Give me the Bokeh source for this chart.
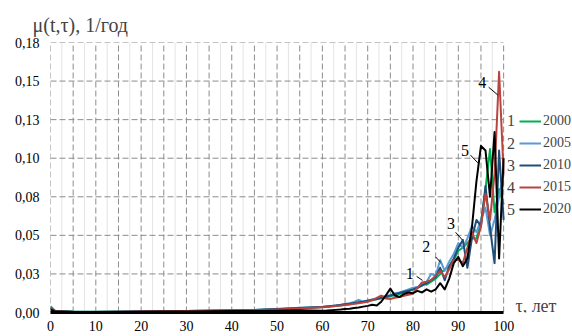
from bokeh.plotting import figure
from bokeh.models import (Legend, LegendItem, Label, FixedTicker, Range1d, ColumnDataSource)
from bokeh.embed import file_html
from bokeh.resources import INLINE

# ---------------- data ----------------
ages = [0, 1, 5, 10, 15, 20, 25, 30, 35, 40, 45, 50, 55] + list(range(60, 101))

mu_2000 = [0.0040, 0.0012, 0.0006, 0.0005, 0.0006, 0.0008, 0.0009, 0.0010, 0.0011, 0.0013, 0.0016, 0.0021, 0.0028,
           0.0035, 0.0037, 0.0040, 0.0043, 0.0046, 0.0050, 0.0054, 0.0058, 0.0063, 0.0068,
           0.0073, 0.0079, 0.0086, 0.0092, 0.0098, 0.0105, 0.0112, 0.0120, 0.0128, 0.0137,
           0.0148, 0.0160, 0.0190, 0.0180, 0.0200, 0.0220, 0.0250, 0.0280, 0.0300, 0.0340,
           0.0400, 0.0420, 0.0450, 0.0480, 0.0480, 0.0580, 0.0800, 0.1060, 0.0650, 0.0800,
           0.0700]
mu_2005 = [0.0035, 0.0010, 0.0005, 0.0005, 0.0006, 0.0008, 0.0009, 0.0010, 0.0012, 0.0014, 0.0017, 0.0023, 0.0030,
           0.0037, 0.0040, 0.0042, 0.0046, 0.0050, 0.0055, 0.0060, 0.0068, 0.0082, 0.0072,
           0.0078, 0.0085, 0.0090, 0.0100, 0.0108, 0.0112, 0.0125, 0.0130, 0.0140, 0.0150,
           0.0160, 0.0165, 0.0180, 0.0200, 0.0250, 0.0240, 0.0340, 0.0270, 0.0330, 0.0380,
           0.0450, 0.0420, 0.0480, 0.0560, 0.0520, 0.0600, 0.0680, 0.0500, 0.0600, 0.0750,
           0.0900]
mu_2010 = [0.0030, 0.0009, 0.0005, 0.0004, 0.0005, 0.0007, 0.0008, 0.0010, 0.0011, 0.0013, 0.0016, 0.0022, 0.0029,
           0.0036, 0.0039, 0.0042, 0.0045, 0.0049, 0.0053, 0.0057, 0.0062, 0.0066, 0.0070,
           0.0076, 0.0082, 0.0088, 0.0095, 0.0102, 0.0110, 0.0118, 0.0126, 0.0134, 0.0142,
           0.0150, 0.0160, 0.0175, 0.0190, 0.0210, 0.0230, 0.0290, 0.0210, 0.0300, 0.0350,
           0.0420, 0.0470, 0.0290, 0.0480, 0.0600, 0.0560, 0.0820, 0.0550, 0.0320, 0.1050,
           0.0600]
mu_2015 = [0.0025, 0.0008, 0.0004, 0.0004, 0.0005, 0.0006, 0.0008, 0.0009, 0.0011, 0.0013, 0.0015, 0.0020, 0.0026,
           0.0034, 0.0036, 0.0039, 0.0042, 0.0045, 0.0048, 0.0052, 0.0056, 0.0060, 0.0064,
           0.0070, 0.0080, 0.0095, 0.0110, 0.0090, 0.0088, 0.0095, 0.0100, 0.0108, 0.0115,
           0.0122, 0.0160, 0.0195, 0.0200, 0.0210, 0.0240, 0.0270, 0.0230, 0.0280, 0.0340,
           0.0340, 0.0320, 0.0420, 0.0520, 0.0450, 0.0560, 0.0770, 0.0600, 0.0900, 0.1560,
           0.0900]
mu_2020 = [0.0020, 0.0006, 0.0003, 0.0003, 0.0004, 0.0005, 0.0006, 0.0007, 0.0008, 0.0009, 0.0010, 0.0012, 0.0015,
           0.0012, 0.0013, 0.0015, 0.0017, 0.0019, 0.0022, 0.0025, 0.0029, 0.0033, 0.0038,
           0.0043, 0.0050, 0.0045, 0.0070, 0.0110, 0.0155, 0.0110, 0.0100, 0.0120, 0.0130,
           0.0125, 0.0140, 0.0130, 0.0150, 0.0135, 0.0150, 0.0190, 0.0150, 0.0220, 0.0320,
           0.0360, 0.0300, 0.0350, 0.0550, 0.0850, 0.1080, 0.1050, 0.0750, 0.1170, 0.0350,
           0.1000]

years = ["2000", "2005", "2010", "2015", "2020"]
numbers = ["1", "2", "3", "4", "5"]
series = [mu_2000, mu_2005, mu_2010, mu_2015, mu_2020]
colors = ["#00B050", "#5B9BD5", "#1F4E79", "#B8443F", "#000000"]

y_ticks = [0.0, 0.025, 0.05, 0.075, 0.1, 0.125, 0.15, 0.175]
y_tick_labels = ["0,00", "0,03", "0,05", "0,08", "0,10", "0,13", "0,15", "0,18"]
x_ticks = [0, 10, 20, 30, 40, 50, 60, 70, 80, 90, 100]

# grid positions
x_grid_major = [0, 5, 10, 15, 20, 25, 30, 35, 40, 45, 50, 55, 60, 65, 70, 75, 80, 85, 90, 95, 100]
x_grid_minor = [2.5, 7.5, 12.5, 17.5, 22.5, 27.5, 32.5, 37.5, 42.5, 47.5,
                52.5, 57.5, 62.5, 67.5, 72.5, 77.5, 82.5, 87.5, 92.5, 97.5]
X_MIN, X_MAX, Y_MIN, Y_MAX = 0, 100, 0.0, 0.175

# curve callouts: (label, text_x, text_y, line_x0, line_y0, line_x1, line_y1)
callouts = [
    ("1", 79.3, 0.0255, 80.8, 0.0234, 82.1, 0.0208),
    ("2", 82.9, 0.0430, 85.0, 0.0360, 86.1, 0.0325),
    ("3", 88.4, 0.0580, 89.4, 0.0520, 90.9, 0.0470),
    ("4", 95.3, 0.1490, 96.7, 0.1460, 98.7, 0.1410),
    ("5", 91.5, 0.1050, 92.7, 0.1020, 94.3, 0.0970),
]

FONT = "Liberation Serif"

# ---------------- figure ----------------
# frame extends to the right edge so that legend / axis title can live inside it
p = figure(width=572, height=336, output_backend="svg", toolbar_location=None,
           x_range=Range1d(0, 115.2), y_range=Range1d(0, 0.175),
           min_border_left=50, min_border_right=0, min_border_top=42, min_border_bottom=24)
p.outline_line_color = None
p.xgrid.visible = False
p.ygrid.visible = False

# title (y-axis quantity)
p.title.text = "μ(t,τ), 1/год"
p.title.align = "left"
p.title.offset = -18
p.title.text_font = FONT
p.title.text_font_size = "20px"
p.title.text_font_style = "normal"
p.title.standoff = 13

# grid lines restricted to the data area
p.segment(x0=x_grid_minor, y0=[Y_MIN] * len(x_grid_minor), x1=x_grid_minor, y1=[Y_MAX] * len(x_grid_minor),
          line_color="#E4E4E4", line_width=1)
p.segment(x0=x_grid_major, y0=[Y_MIN] * len(x_grid_major), x1=x_grid_major, y1=[Y_MAX] * len(x_grid_major),
          line_color="#8C8C8C", line_width=1, line_dash="6 3")
p.segment(x0=[X_MIN] * len(y_ticks), y0=y_ticks, x1=[X_MAX] * len(y_ticks), y1=y_ticks,
          line_color="#8C8C8C", line_width=1, line_dash="6 3")

# axes
p.xaxis.ticker = FixedTicker(ticks=x_ticks)
p.xaxis.bounds = (X_MIN, X_MAX)
p.xaxis.axis_line_color = "black"
p.xaxis.axis_line_width = 3
p.xaxis.major_tick_line_color = None
p.xaxis.minor_tick_line_color = None
p.xaxis.major_tick_out = 0
p.xaxis.minor_tick_out = 0
p.xaxis.major_label_standoff = 8
p.xaxis.major_label_text_font = FONT
p.xaxis.major_label_text_font_size = "14px"
p.xaxis.major_label_text_color = "black"

p.yaxis.ticker = FixedTicker(ticks=y_ticks)
p.yaxis.major_label_overrides = {t: l for t, l in zip(y_ticks, y_tick_labels)}
p.yaxis.axis_line_color = None
p.yaxis.major_tick_line_color = None
p.yaxis.minor_tick_line_color = None
p.yaxis.major_tick_out = 0
p.yaxis.minor_tick_out = 0
p.yaxis.major_label_standoff = 11
p.yaxis.major_label_text_font = FONT
p.yaxis.major_label_text_font_size = "14px"
p.yaxis.major_label_text_color = "black"

# curves
items = []
for yr, mu, col in zip(years, series, colors):
    src = ColumnDataSource(dict(x=ages, y=mu))
    r = p.line("x", "y", source=src, line_color=col, line_width=2, line_join="round")
    items.append(LegendItem(label=yr, renderers=[r]))

# callouts
for lab, tx, ty, x0, y0, x1, y1 in callouts:
    p.segment(x0=[x0], y0=[y0], x1=[x1], y1=[y1], line_color="black", line_width=1)
    p.add_layout(Label(x=tx, y=ty, text=lab, text_font=FONT, text_font_size="16px",
                       text_align="center", text_baseline="middle", text_color="black"))

# legend (inside the extended frame, right of the data area)
legend = Legend(items=items, location=(469, 93), orientation="vertical",
                glyph_width=22, glyph_height=20, label_height=20, spacing=2,
                label_standoff=2, padding=0, margin=0,
                label_text_font=FONT, label_text_font_size="14px",
                border_line_alpha=0, background_fill_alpha=0)
p.add_layout(legend, "center")
legend_row_y = [0.1242, 0.1098, 0.0955, 0.0812, 0.0669]
for n, yy in zip(numbers, legend_row_y):
    p.add_layout(Label(x=101.6, y=yy, text=n, text_font=FONT, text_font_size="16px",
                       text_align="center", text_baseline="middle"))

# x-axis title
p.add_layout(Label(x=102.6, y=0.0042, text="τ, лет", text_font=FONT, text_font_size="18px",
                   text_baseline="middle"))

open("out.html", "w").write(file_html(p, INLINE))
